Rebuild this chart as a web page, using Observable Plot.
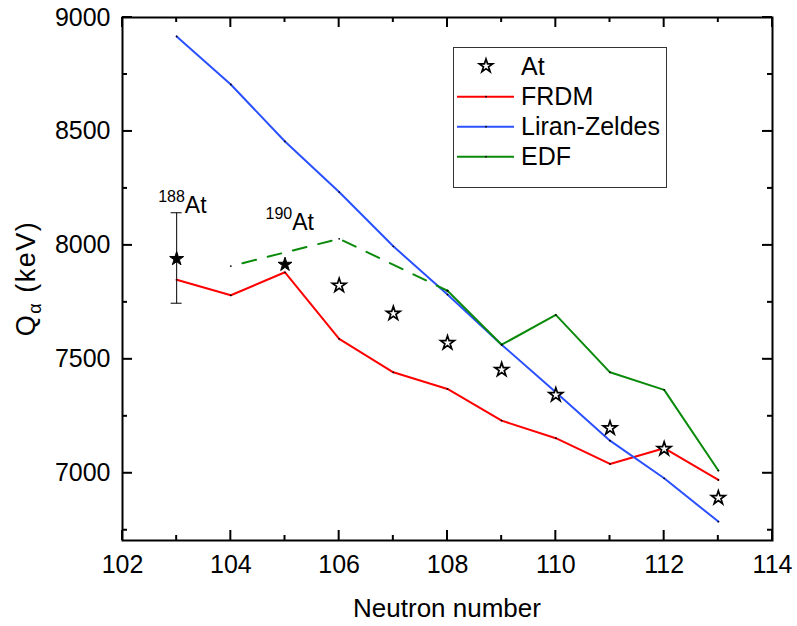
<!DOCTYPE html>
<html><head><meta charset="utf-8">
<script src="https://cdn.jsdelivr.net/npm/d3@7"></script>
<script src="https://cdn.jsdelivr.net/npm/@observablehq/plot@0.6"></script>
<style>
html,body{margin:0;padding:0;background:#fff;}
#chart svg{display:block;}
</style>
</head><body><div id="chart"></div>
<script>
// ---- data ----
const neutrons = [103,104,105,106,107,108,109,110,111,112,113];
const frdm = [7849,7781,7882,7590,7443,7370,7231,7154,7041,7110,6971];
const liranZeldes = [8917,8706,8456,8234,7996,7784,7564,7356,7143,6978,6788];
const edfDashedN = [104,106,108];
const edfDashed = [7909,8029,7801];
const edfSolidN = [108,109,110,111,112,113];
const edfSolid = [7801,7564,7695,7443,7366,7012];
const atN = [103,105,106,107,108,109,110,111,112,113];
const atQ = [7941,7916,7824,7701,7572,7454,7344,7198,7107,6892];
const atFilled = [true,true,false,false,false,false,false,false,false,false];
const errN = [103];
const errLow = [7744];
const errHigh = [8141];
const annotMass = ["188","190"];
const annotN = [103,105];
const annotQ = [8141,7916];
const xMajor = [102,104,106,108,110,112,114];
const xMinor = [103,105,107,109,111,113];
const yMajor = [7000,7500,8000,8500,9000];
const yMinor = [6750,7250,7750,8250,8750];
const seriesNames = ["At","FRDM","Liran-Zeldes","EDF"];
const colors = {FRDM:"#ff0000", "Liran-Zeldes":"#2a50ff", EDF:"#0a8a0a"};

// ---- layout ----
const W = 797, H = 626, ML = 122, MR = 25, MT = 17, MB = 86;
const PW = W - ML - MR, PH = H - MT - MB;

// ---- tables ----
const toRows = (xs, ys) => xs.map((n,i)=>({n, q: ys[i]}));
const frdmRows = toRows(neutrons, frdm);
const lzRows = toRows(neutrons, liranZeldes);
const edfDRows = toRows(edfDashedN, edfDashed);
const edfSRows = toRows(edfSolidN, edfSolid);
const atRows = atN.map((n,i)=>({n, q: atQ[i], filled: atFilled[i]}));
const errRows = errN.map((n,i)=>({n, lo: errLow[i], hi: errHigh[i]}));
const FONT = "'Liberation Sans', Arial, Helvetica, sans-serif";
const fmt = d => String(d);

const smallDots = rows => Plot.dot(rows, {x:"n", y:"q", r:0.9, fill:"#000", stroke:"none"});

const chart = Plot.plot({
  width: W, height: H,
  marginLeft: ML, marginRight: MR, marginTop: MT, marginBottom: MB,
  style: {fontFamily: FONT, background: "#fff", color: "#000"},
  x: {domain: [102, 114]},
  y: {domain: [6705, 9000]},
  marks: [
    // tick labels
    Plot.axisX(xMajor, {anchor:"bottom", tickSize:0, tickPadding:15, fontSize:25, label:null, tickFormat: fmt}),
    Plot.axisY(yMajor, {anchor:"left", tickSize:0, tickPadding:12, fontSize:25, label:null, tickFormat: fmt}),
    // error bar
    Plot.ruleX(errRows, {x:"n", y1:"lo", y2:"hi", stroke:"#000", strokeWidth:1}),
    // model lines
    Plot.line(frdmRows, {x:"n", y:"q", stroke:colors.FRDM, strokeWidth:2}),
    Plot.line(lzRows, {x:"n", y:"q", stroke:colors["Liran-Zeldes"], strokeWidth:2}),
    Plot.line(edfDRows, {x:"n", y:"q", stroke:colors.EDF, strokeWidth:2, strokeDasharray:"14,12", strokeDashoffset:14}),
    Plot.line(edfSRows, {x:"n", y:"q", stroke:colors.EDF, strokeWidth:2}),
    smallDots(frdmRows), smallDots(lzRows), smallDots(edfDRows), smallDots(edfSRows),
    // At stars
    Plot.dot(atRows.filter(d=>!d.filled), {x:"n", y:"q", symbol:"star", r:4.3, fill:"#fff", stroke:"#000", strokeWidth:1.7}),
    Plot.dot(atRows.filter(d=>d.filled), {x:"n", y:"q", symbol:"star", r:4.4, fill:"#000", stroke:"#000", strokeWidth:1}),
    Plot.frame({stroke:"#000", strokeWidth:2})
  ]
});

document.getElementById("chart").appendChild(chart);

// ---- ticks, caps, annotations, titles, legend via D3 using Plot's scales ----
const svg = d3.select(chart);
const sx = chart.scale("x"), sy = chart.scale("y");
const X0 = ML, X1 = ML + PW, Y0 = MT + PH, Y1 = MT;

const tg = svg.append("g");
const tick = (x1, y1, x2, y2) => tg.append("line")
  .attr("x1",x1).attr("y1",y1).attr("x2",x2).attr("y2",y2)
  .attr("stroke","#000").attr("stroke-width",2);
const addXTicks = (vals, len) => vals.forEach(v => {
  const x = sx.apply(v);
  tick(x, Y0, x, Y0 - len);
  tick(x, Y1, x, Y1 + len);
});
const addYTicks = (vals, len) => vals.forEach(v => {
  const y = sy.apply(v);
  tick(X0, y, X0 + len, y);
  tick(X1, y, X1 - len, y);
});
addXTicks(xMajor, 10); addXTicks(xMinor, 5);
addYTicks(yMajor, 10); addYTicks(yMinor, 5);

// error-bar caps
errRows.forEach(d => {
  const x = sx.apply(d.n);
  [d.lo, d.hi].forEach(v => {
    const y = sy.apply(v);
    svg.append("line").attr("x1",x-5.5).attr("x2",x+5.5).attr("y1",y).attr("y2",y)
      .attr("stroke","#000").attr("stroke-width",1);
  });
});

const annotOffsets = [{dx:-18, dy:0}, {dx:-19, dy:-34}];
annotN.forEach((n,i)=>{
  const x = sx.apply(n) + annotOffsets[i].dx;
  const y = sy.apply(annotQ[i]) + annotOffsets[i].dy;
  const t = svg.append("text").attr("x", x).attr("y", y).attr("text-anchor","start")
    .attr("font-family", FONT).attr("fill", "#000");
  t.append("tspan").attr("font-size", 16).attr("dy", -11).text(annotMass[i]);
  t.append("tspan").attr("font-size", 23).attr("dy", 11).text("At");
});

// x-axis title
svg.append("text").attr("x", ML + PW/2).attr("y", 617)
  .attr("text-anchor","middle").attr("font-family", FONT).attr("font-size", 26)
  .attr("fill","#000").text("Neutron number");

// y-axis title (rotated) with subscript alpha
const yt = svg.append("text").attr("transform",`translate(35,${MT + PH/2}) rotate(-90)`)
  .attr("text-anchor","middle").attr("font-family", FONT).attr("font-size", 27)
  .attr("letter-spacing", "1.5px").attr("fill","#000");
yt.append("tspan").text("Q");
yt.append("tspan").attr("font-size", 18).attr("dy", 6).text("α");
yt.append("tspan").attr("dy", -6).text(" (keV)");

// legend
const lg = svg.append("g");
lg.append("rect").attr("x",453.5).attr("y",47.5).attr("width",213).attr("height",140)
  .attr("fill","#fff").attr("stroke","#333").attr("stroke-width",1);
const rowY = [66, 96.7, 126.7, 156.7];
seriesNames.forEach((name,i)=>{
  const y = rowY[i];
  if (name === "At") {
    lg.append("path").attr("transform",`translate(486,${y})`)
      .attr("d", d3.symbol(d3.symbolStar, Math.PI*4.2*4.2)())
      .attr("fill","#fff").attr("stroke","#000").attr("stroke-width",1.7);
  } else {
    lg.append("line").attr("x1",457).attr("x2",514).attr("y1",y).attr("y2",y)
      .attr("stroke", colors[name]).attr("stroke-width",2);
    lg.append("circle").attr("cx",486).attr("cy",y).attr("r",0.9).attr("fill","#000");
  }
  lg.append("text").attr("x",521).attr("y",y).attr("dy","0.35em").attr("text-anchor","start")
    .attr("font-family", FONT).attr("font-size",25).attr("fill","#000").text(name);
});
</script>
</body></html>
